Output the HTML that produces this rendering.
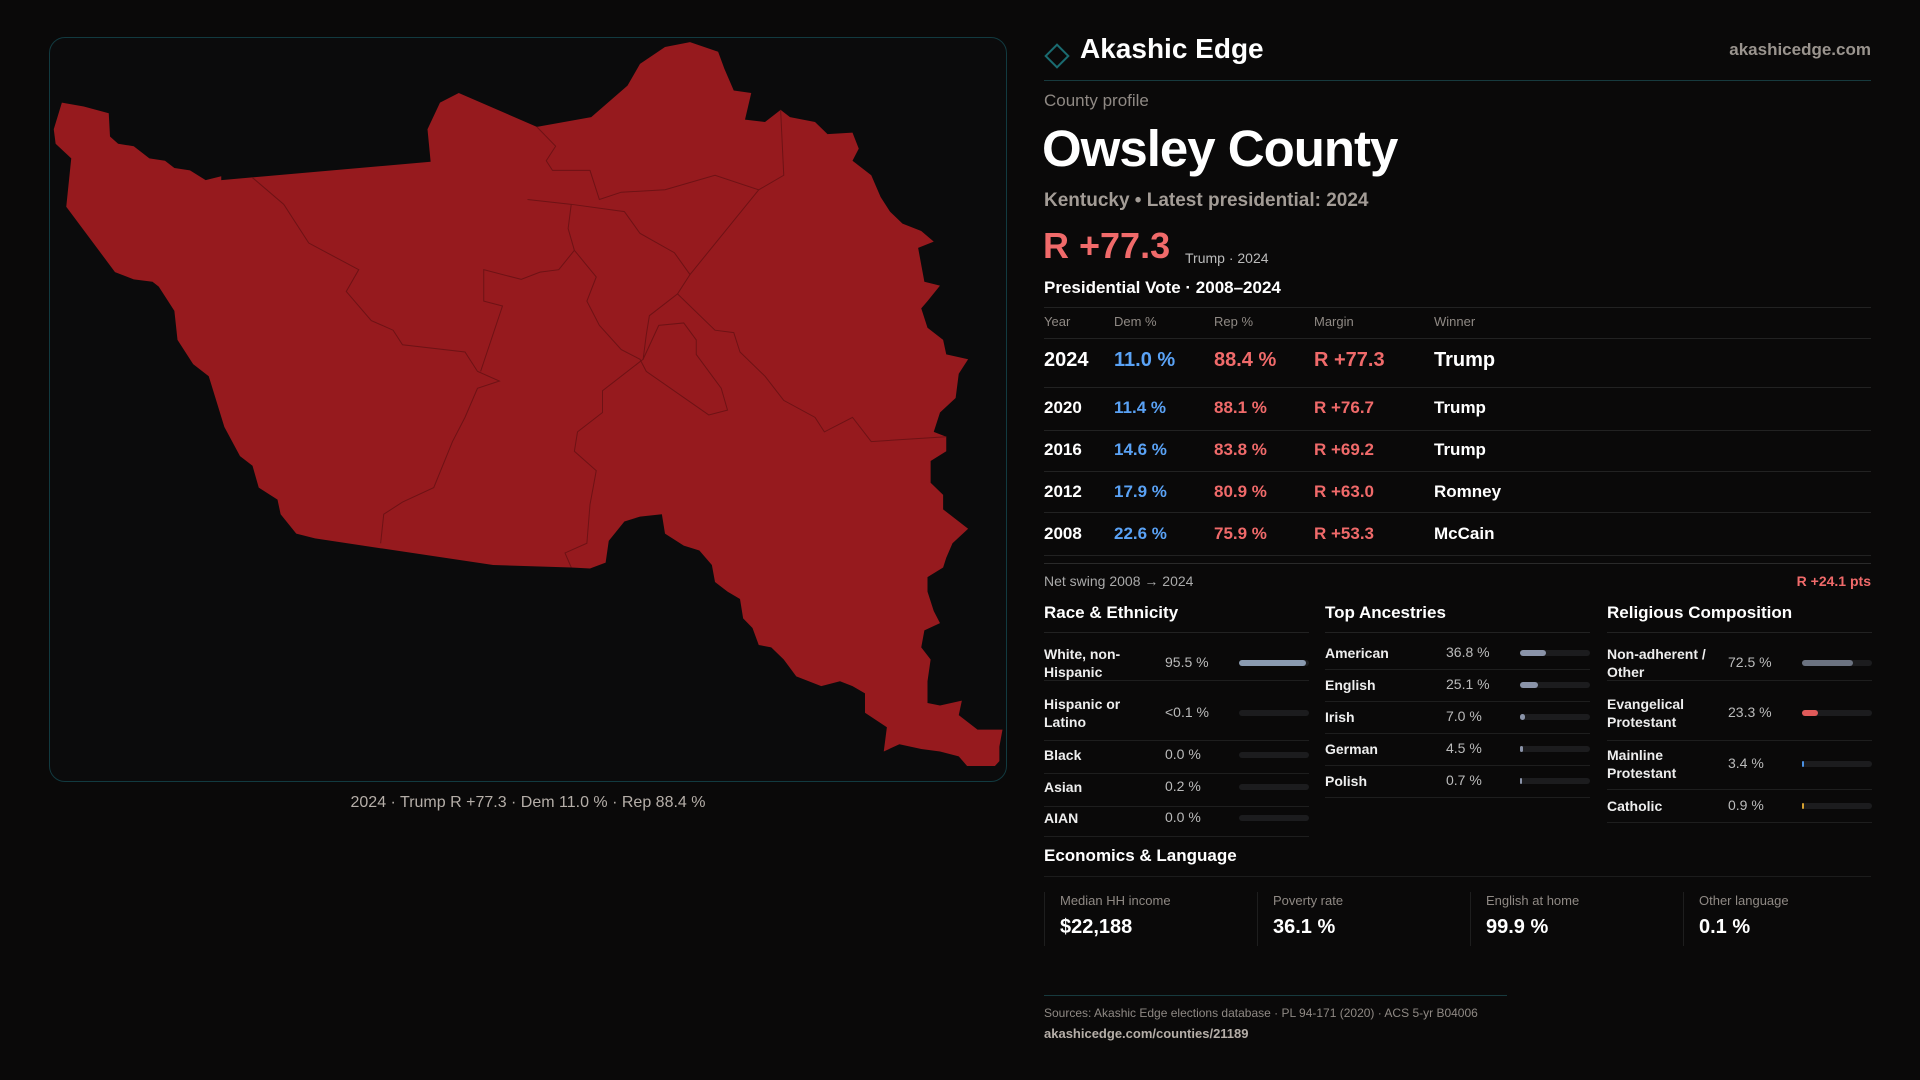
<!DOCTYPE html>
<html><head><meta charset="utf-8"><title>Owsley County profile</title>
<style>
*{margin:0;padding:0;box-sizing:border-box}
body{width:1920px;height:1080px;background:#0a0909;font-family:"Liberation Sans",sans-serif;color:#fff;position:relative;overflow:hidden}
.abs{position:absolute;white-space:nowrap}
.map{position:absolute;left:49px;top:37px;width:958px;height:745px;border:1px solid #123a40;border-radius:16px;background:#0b0b0c}
.hl{position:absolute;height:1px;background:#222}
.g{color:#a39c96}
.red{color:#f06a6a}.blue{color:#5aa2f5}
</style></head><body>
<div class="map"></div>
<svg class="abs" style="left:40px;top:30px" width="980" height="736" viewBox="0 0 1568 1520" preserveAspectRatio="none">
<path fill="#961a1e" d="M35,150 L70,158 110,172 112,220 125,235 150,240 175,265 200,270 215,285 240,290 265,310 290,302 290,310 625,272 620,205 640,150 670,130 795,200 882,180 940,115 960,70 1000,35 1040,25 1085,45 1095,80 1110,125 1138,130 1128,185 1160,190 1185,165 1200,180 1240,190 1260,215 1300,212 1310,245 1300,270 1330,300 1345,345 1360,375 1380,400 1410,415 1430,437 1405,450 1415,520 1440,528 1420,560 1410,575 1420,615 1445,640 1450,670 1485,680 1470,710 1465,760 1440,790 1430,830 1450,840 1450,870 1425,890 1425,935 1445,960 1445,990 1485,1030 1460,1060 1450,1090 1445,1110 1420,1130 1420,1160 1430,1200 1440,1225 1415,1240 1410,1275 1425,1300 1420,1345 1420,1390 1440,1395 1475,1385 1470,1415 1500,1445 1540,1445 1535,1480 1535,1510 1510,1545 1490,1530 1470,1500 1440,1490 1410,1485 1375,1475 1350,1490 1355,1440 1320,1410 1320,1370 1300,1355 1280,1345 1250,1355 1210,1335 1190,1300 1170,1275 1150,1270 1140,1235 1125,1215 1120,1175 1100,1160 1080,1140 1075,1105 1055,1075 1030,1065 1000,1040 995,1000 960,1005 935,1015 910,1055 905,1100 880,1112 850,1110 725,1105 440,1050 410,1040 385,1000 380,970 350,945 340,900 320,880 295,820 270,715 245,690 220,640 215,580 190,530 180,520 150,515 120,500 42,365 50,265 25,235 22,205 Z"/>
<g fill="none" stroke="#6e1215" stroke-width="1">
<path vector-effect="non-scaling-stroke" d="M340,305 L390,360 430,440 510,495 490,540 530,600 565,620 580,650 680,665 700,705 735,725 700,740 680,800 660,850 630,945 580,975 550,1000 545,1060"/>
<path vector-effect="non-scaling-stroke" d="M795,200 L825,240 810,270 820,290 880,290 895,350 930,335 1000,330 1080,300 1150,330 1190,300 1185,165"/>
<path vector-effect="non-scaling-stroke" d="M780,350 L850,360 935,375 960,420 1015,460 1040,505 1020,545 975,590 970,630 965,680 900,745 900,790 860,830 855,870 890,910 880,980 875,1060 840,1080 850,1110"/>
<path vector-effect="non-scaling-stroke" d="M1150,330 L1040,505 M1020,545 L1080,620 1110,625 1120,665 1160,715 1190,765 1240,800 1255,830 1300,800 1330,850 1450,840"/>
<path vector-effect="non-scaling-stroke" d="M705,705 L740,570 710,560 710,495 770,515 800,500 830,495 855,455 845,410 850,360 M855,455 L890,510 875,560 895,610 930,660 960,680 970,705 1070,795 1100,785 1090,740 1050,670 1050,640 1030,605 990,610 965,680"/>
</g>
</svg>
<div class="abs" style="left:0;width:1056px;top:794px;text-align:center;font-size:16px;color:#b5aea8">2024 · Trump R +77.3 · Dem 11.0 % · Rep 88.4 %</div>

<svg class="abs" style="left:1043px;top:41px" width="28" height="30"><rect x="6" y="7" width="16" height="16" transform="rotate(45 14 15)" fill="none" stroke="#1a6b70" stroke-width="2"/></svg>
<div class="abs" style="left:1080px;top:33px;font-size:28px;font-weight:bold">Akashic Edge</div>
<div class="abs g" style="right:49px;top:40px;font-size:17px;font-weight:bold;color:#9a948e">akashicedge.com</div>
<div class="hl" style="left:1044px;top:80px;width:827px;background:#173a3e"></div>
<div class="abs g" style="left:1044px;top:91px;font-size:17px;color:#8f8984">County profile</div>
<div class="abs" style="left:1042px;top:119px;font-size:51px;font-weight:bold;letter-spacing:-1px">Owsley County</div>
<div class="abs g" style="left:1044px;top:190px;font-size:19px;font-weight:bold">Kentucky • Latest presidential: 2024</div>
<div class="abs red" style="left:1043px;top:225px;font-size:36px;font-weight:bold">R +77.3</div>
<div class="abs g" style="left:1185px;top:250px;font-size:14px;color:#bbb">Trump · 2024</div>
<div class="abs" style="left:1044px;top:278px;font-size:17px;font-weight:bold">Presidential Vote · 2008–2024</div>
<div class="hl" style="left:1044px;top:307px;width:827px"></div>
<div id="vt"></div>
<div class="abs g" style="left:1044px;top:573px;font-size:14px;color:#aaa">Net swing 2008 → 2024</div>
<div class="abs red" style="right:49px;top:573px;font-size:14px;font-weight:bold">R +24.1 pts</div>
<div id="demo"></div>

<div class="abs" style="left:1044px;top:846px;font-size:17px;font-weight:bold">Economics &amp; Language</div>
<div class="hl" style="left:1044px;top:876px;width:827px;background:#1c1c1c"></div>
<div id="econ"></div>

<div class="hl" style="left:1044px;top:995px;width:463px;background:#173a3e"></div>
<div class="abs" style="left:1044px;top:1006px;font-size:12px;color:#8f8984">Sources: Akashic Edge elections database · PL 94-171 (2020) · ACS 5-yr B04006</div>
<div class="abs" style="left:1044px;top:1026px;font-size:13px;font-weight:bold;color:#b5aea8">akashicedge.com/counties/21189</div>

<script>
const years=["2024","2020","2016","2012","2008"];
const demPct=[11.0,11.4,14.6,17.9,22.6];
const repPct=[88.4,88.1,83.8,80.9,75.9];
const margins=[77.3,76.7,69.2,63.0,53.3];
const winners=["Trump","Trump","Trump","Romney","McCain"];
const raceLabels=["White, non-Hispanic","Hispanic or Latino","Black","Asian","AIAN"];
const raceVals=[95.5,0.05,0.0,0.2,0.0];
const raceText=["95.5 %","<0.1 %","0.0 %","0.2 %","0.0 %"];
const ancLabels=["American","English","Irish","German","Polish"];
const ancVals=[36.8,25.1,7.0,4.5,0.7];
const relLabels=["Non-adherent / Other","Evangelical Protestant","Mainline Protestant","Catholic"];
const relVals=[72.5,23.3,3.4,0.9];
const econLabels=["Median HH income","Poverty rate","English at home","Other language"];
const econVals=["$22,188","36.1 %","99.9 %","0.1 %"];

function mk(tag,css,txt,parent){const e=document.createElement(tag);e.style.cssText=css;if(txt!==undefined)e.textContent=txt;(parent||document.body).appendChild(e);return e;}
function fmt(v){return v.toFixed(1)+" %";}

const vt=document.getElementById('vt');
const hdrs=["Year","Dem %","Rep %","Margin","Winner"];
const colX=[1044,1114,1214,1314,1434];
hdrs.forEach((h,i)=>{const e=mk('div','position:absolute;left:'+colX[i]+'px;top:314px;font-size:13px;color:#8f8984;white-space:nowrap',h,vt);

});
const rl=mk('div','position:absolute;left:1044px;top:338px;width:827px;height:1px;background:#222','',vt);


const rowY=[349,398,440,482,524], lineY=[387,430,471,512,555];
years.forEach((y,i)=>{
 const big=i===0, fs=big?20:17;
 const cells=[[y,'#fff'],[fmt(demPct[i]),'#5aa2f5'],[fmt(repPct[i]),'#f06a6a'],['R +'+margins[i].toFixed(1),'#f06a6a'],[winners[i],'#fff']];
 cells.forEach((c,j)=>{const e=mk('div','position:absolute;left:'+colX[j]+'px;top:'+rowY[i]+'px;font-size:'+fs+'px;font-weight:bold;color:'+c[1]+';white-space:nowrap',c[0],vt);
 
 });
 const l=mk('div','position:absolute;left:1044px;top:'+lineY[i]+'px;width:827px;height:1px;background:#222','',vt);
 
 
});
const l2=mk('div','position:absolute;left:1044px;top:563px;width:827px;height:1px;background:#2a2a2a','',vt);



const demo=document.getElementById('demo');
function section(title,x,labels,vals,texts,rowsY,rules,colors){
 const t=mk('div','position:absolute;left:'+x+'px;top:603px;font-size:17px;font-weight:bold;white-space:nowrap',title,demo);
 
 
 const r=mk('div','position:absolute;left:'+x+'px;top:632px;width:265px;height:1px;background:#222','',demo);
 
 
 labels.forEach((lab,i)=>{
  const cy=rowsY[i];
  const le=mk('div','position:absolute;left:'+x+'px;top:'+(cy-18)+'px;width:112px;height:36px;display:flex;align-items:center;font-size:14px;font-weight:bold;color:#eee;line-height:18px',lab,demo);
  
  
  const ve=mk('div','position:absolute;left:'+(x+121)+'px;top:'+(cy-9)+'px;font-size:14px;color:#bbb;white-space:nowrap',texts?texts[i]:fmt(vals[i]),demo);
  
  
  const tr=mk('div','position:absolute;left:'+(x+195)+'px;top:'+(cy-3)+'px;width:70px;height:6px;border-radius:3px;background:#1c1c1e','',demo);
  
  
  const w=vals[i]>=0.5?Math.max(2,70*vals[i]/100):0;
  const b=mk('div','position:absolute;left:0;top:0;height:6px;border-radius:3px;width:'+w+'px;background:'+colors[i],'',tr);
  
  
  const ru=mk('div','position:absolute;left:'+x+'px;top:'+rules[i]+'px;width:265px;height:1px;background:#1e1e1e','',demo);
  
  
 });
}
section("Race & Ethnicity",1044,raceLabels,raceVals,raceText,[663,713,755,787,818],[680,740,773,806,836],["#8a9ab0","#8a9ab0","#8a9ab0","#8a9ab0","#8a9ab0"]);
section("Top Ancestries",1325,ancLabels,ancVals,null,[653,685,717,749,781],[669,701,733,765,797],["#8a93a8","#8a93a8","#8a93a8","#8a93a8","#8a93a8"]);
section("Religious Composition",1607,relLabels,relVals,null,[663,713,764,806],[680,740,789,822],["#6b7280","#e05a5a","#4a90e2","#d4a030"]);

const econ=document.getElementById('econ');
econLabels.forEach((lab,i)=>{
 const x=1044+i*213;
 const box=mk('div','position:absolute;left:'+x+'px;top:892px;width:213px;height:54px;border-left:1px solid #1e1e1e','',econ);
 
 
 const a=mk('div','position:absolute;left:15px;top:1px;font-size:13px;color:#8f8984;white-space:nowrap',lab,box);
 
 
 const b=mk('div','position:absolute;left:15px;top:24px;font-size:20px;font-weight:bold;white-space:nowrap',econVals[i],box);
 
 
});
</script>
</body></html>
